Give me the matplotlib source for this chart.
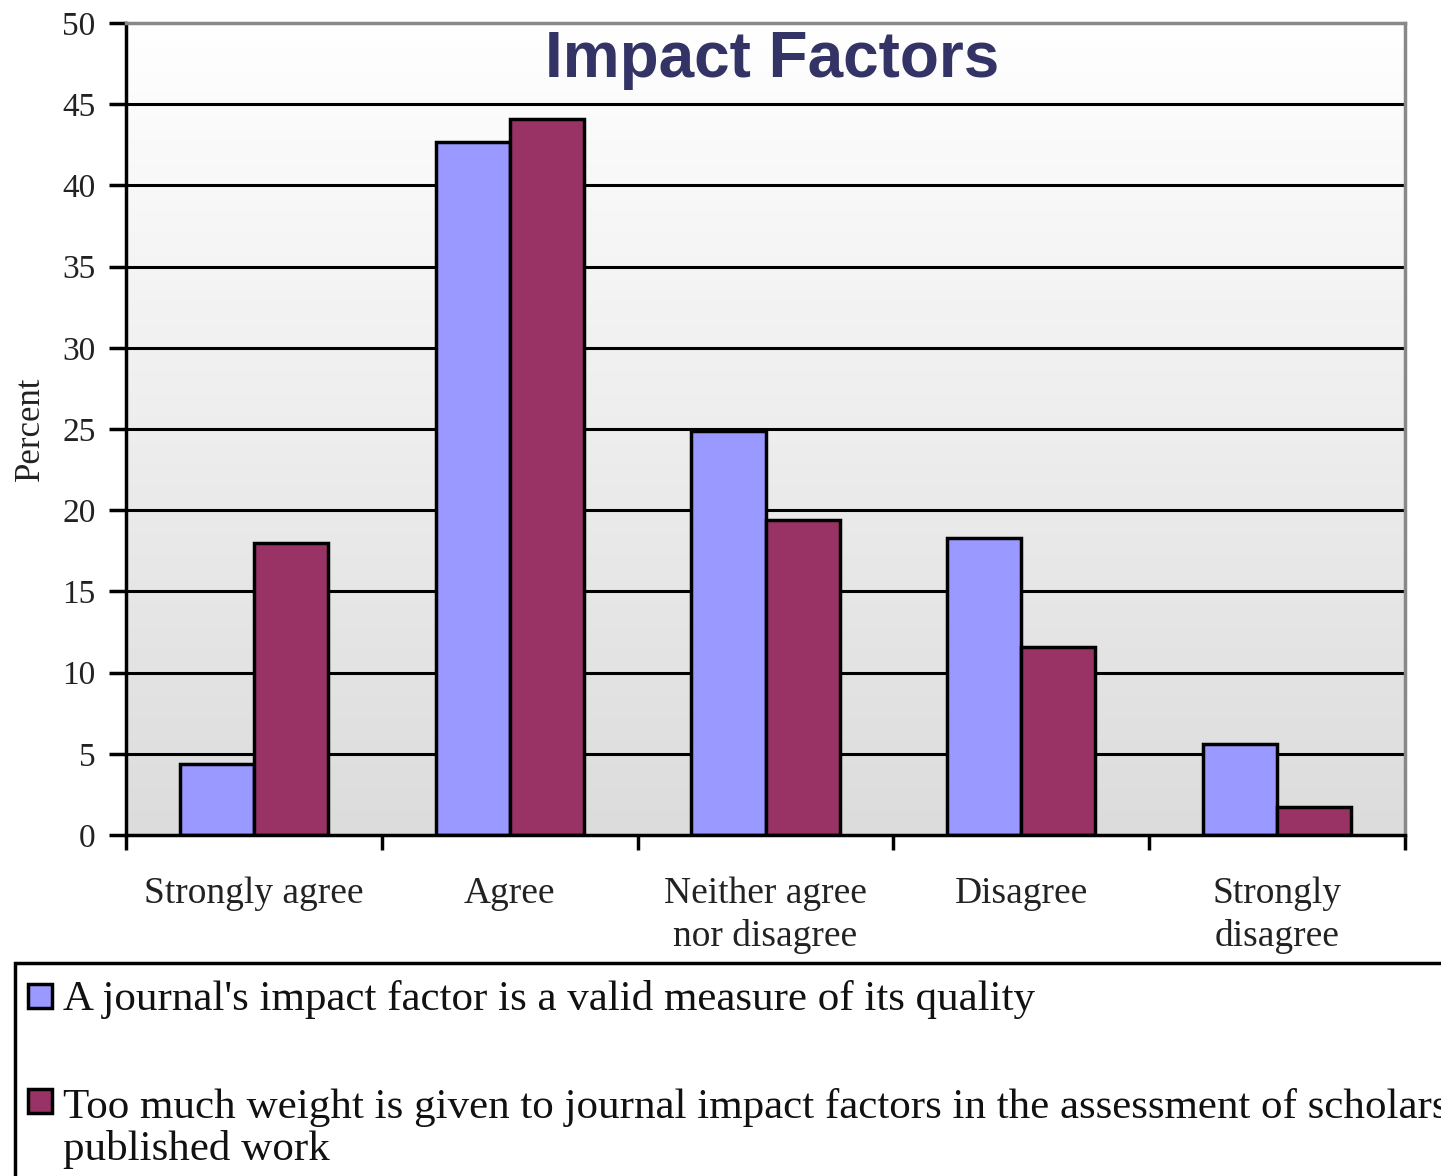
import numpy as np
import matplotlib.pyplot as plt
from matplotlib.colors import LinearSegmentedColormap
from matplotlib.patches import Rectangle

categories = ['Strongly agree', 'Agree', 'Neither agree\nnor disagree', 'Disagree', 'Strongly\ndisagree']
valid_measure = [4.4, 42.7, 24.9, 18.3, 5.6]
too_much_weight = [18.0, 44.1, 19.4, 11.6, 1.7]
series_labels = ["A journal's impact factor is a valid measure of its quality",
                 "Too much weight is given to journal impact factors in the assessment of scholars'\npublished work"]

blue = '#9999ff'
red = '#993366'
serif = ['Liberation Serif', 'DejaVu Serif']
W, H = 1441, 1176

fig = plt.figure(figsize=(W / 100, H / 100), dpi=100)
ax = fig.add_axes([126 / W, 1 - 835 / H, (1405 - 126) / W, (835 - 23) / H])

x = np.arange(len(categories))
w = 0.29

# gradient background, white at top to light grey at bottom
grad = np.linspace(0, 1, 256).reshape(-1, 1)
ax.imshow(grad, extent=(-0.5, 4.5, 0, 50), aspect='auto', origin='upper',
          cmap=LinearSegmentedColormap.from_list('bg', ['#ffffff', '#dcdcdc']), zorder=0)

for y in range(5, 50, 5):
    ax.axhline(y, color='black', lw=2.2, zorder=1)

ax.bar(x - w / 2, valid_measure, w, color=blue, edgecolor='black', lw=2.5, zorder=2)
ax.bar(x + w / 2, too_much_weight, w, color=red, edgecolor='black', lw=2.5, zorder=2)

ax.set_xlim(-0.5, 4.5)
ax.set_ylim(0, 50)
ax.set_yticks(range(0, 51, 5))
ax.set_xticks(x)
ax.set_xticklabels(categories, family=serif, fontsize=27, color='#222222', linespacing=1.3)
ax.set_xticks(np.arange(-0.5, 5, 1), minor=True)
ax.tick_params(axis='x', which='major', length=0, pad=30)
ax.tick_params(axis='x', which='minor', length=11, width=2.5, direction='out')
ax.tick_params(axis='y', length=12, width=2.5, direction='out', pad=10)
for lab in ax.get_yticklabels():
    lab.set_family(serif)
    lab.set_fontsize(24)
    lab.set_color('#222222')

ax.spines['left'].set_linewidth(2.5)
ax.spines['bottom'].set_linewidth(2.5)
for side in ['top', 'right']:
    ax.spines[side].set_color('#888888')
    ax.spines[side].set_linewidth(2.5)

ax.set_ylabel('Percent', family=serif, fontsize=25, color='#222222')
ax.yaxis.set_label_coords(47 / W, 1 - 429 / H, transform=fig.transFigure)

ax.text(0.505, 0.955, 'Impact Factors', transform=ax.transAxes, ha='center', va='center',
        family=['Liberation Sans', 'DejaVu Sans'], fontsize=46, fontweight='bold',
        color='#333366', zorder=5)

# legend box, running off the right and bottom edges as in the original
fig.add_artist(Rectangle((15 / W, -0.1), 1.2, (H - 963) / H + 0.1, transform=fig.transFigure,
                         facecolor='white', edgecolor='black', lw=2.5))
swatch_tops = [982, 1087]
last_baselines = [1010, 1160]
for color, label, top, base in zip([blue, red], series_labels, swatch_tops, last_baselines):
    fig.add_artist(Rectangle((28 / W, 1 - (top + 26) / H), 24 / W, 24 / H,
                             transform=fig.transFigure, facecolor=color,
                             edgecolor='black', lw=2.5))
    fig.text(63 / W, 1 - base / H, label, family=serif, fontsize=31, color='#111111',
             va='baseline', ha='left', linespacing=1.1)

fig.savefig('out.png', dpi=100)
